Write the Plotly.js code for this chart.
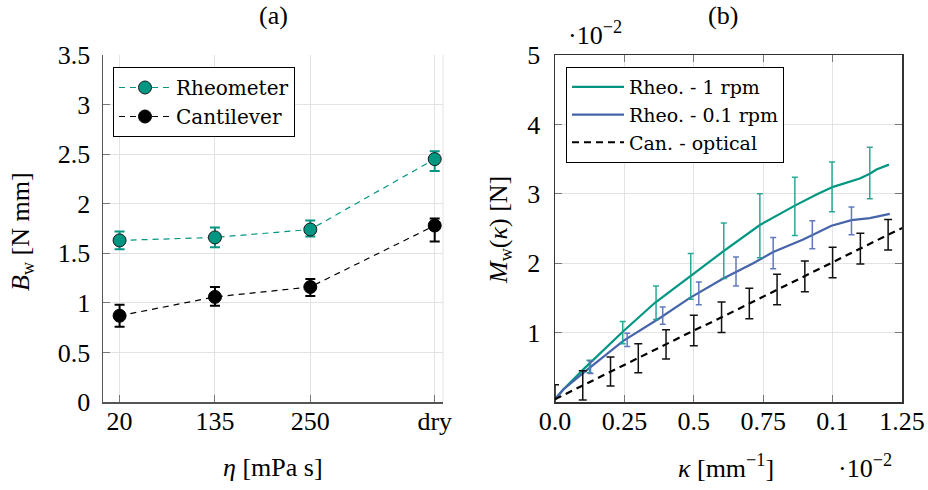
<!DOCTYPE html>
<html>
<head>
<meta charset="utf-8">
<script src="https://cdn.plot.ly/plotly-3.0.1.min.js"></script>
<style>html,body{margin:0;padding:0;background:#fff;}#plot{width:928px;height:490px;}</style>
</head>
<body>
<div id="plot"></div>
<script>
// ---- Panel (a) data ----
const etaPos = [20, 135, 250, 400];
const etaLabels = ['20', '135', '250', 'dry'];
const rheoB = [1.63, 1.66, 1.74, 2.45];
const rheoErrPlus = [0.09, 0.10, 0.09, 0.08];
const rheoErrMinus = [0.09, 0.10, 0.07, 0.12];
const cantB = [0.87, 1.06, 1.16, 1.78];
const cantErrPlus = [0.11, 0.10, 0.08, 0.07];
const cantErrMinus = [0.11, 0.09, 0.09, 0.16];

// ---- Panel (b) data (units of 1e-2) ----
const kappaTicks = [0, 0.25, 0.5, 0.75, 1.0, 1.25];
const kappaTickLabels = ['0.0', '0.25', '0.5', '0.75', '0.1', '1.25'];
const mTicks = [1, 2, 3, 4, 5];

const k1 = [0, 0.03, 0.102, 0.246, 0.36, 0.486, 0.606, 0.738, 0.864, 0.942, 1.002, 1.098, 1.134, 1.158, 1.203];
const m1 = [0.04, 0.18, 0.47, 1.02, 1.43, 1.81, 2.17, 2.55, 2.83, 2.99, 3.10, 3.22, 3.29, 3.35, 3.42];
const k1Err = [0.124, 0.244, 0.364, 0.489, 0.608, 0.738, 0.864, 0.998, 1.134];
const m1ErrCenter = [0.51, 1.00, 1.43, 1.81, 2.18, 2.54, 2.82, 3.10, 3.30];
const m1Err = [0.09, 0.16, 0.24, 0.33, 0.40, 0.46, 0.42, 0.36, 0.37];

const k01 = [0, 0.03, 0.102, 0.246, 0.378, 0.486, 0.606, 0.714, 0.786, 0.894, 0.996, 1.068, 1.134, 1.206];
const m01 = [0.04, 0.18, 0.42, 0.88, 1.21, 1.50, 1.78, 2.00, 2.16, 2.34, 2.54, 2.62, 2.65, 2.71];
const k01Err = [0.128, 0.26, 0.388, 0.518, 0.652, 0.786, 0.927, 1.068];
const m01ErrCenter = [0.50, 0.895, 1.245, 1.565, 1.88, 2.145, 2.41, 2.61];
const m01Err = [0.09, 0.095, 0.125, 0.165, 0.21, 0.225, 0.20, 0.20];

const kCan = [0, 0.1, 0.2, 0.3, 0.4, 0.5, 0.6, 0.7, 0.8, 0.9, 1.0, 1.1, 1.2, 1.3];
const mCan = [0.04, 0.24, 0.44, 0.63, 0.83, 1.03, 1.22, 1.42, 1.62, 1.81, 2.01, 2.21, 2.41, 2.60];
const mCanErr = [0.21, 0.21, 0.21, 0.21, 0.21, 0.22, 0.22, 0.22, 0.22, 0.22, 0.22, 0.22, 0.22, 0.22];

const FONT = 'Liberation Serif';
const LFONT = 'DejaVu Serif';
const TEAL = 'rgb(0,150,130)';
const BLUE = 'rgb(70,100,170)';

const traces = [
  {x: etaPos, y: rheoB, name: 'Rheometer', mode: 'lines+markers', xaxis: 'x', yaxis: 'y', legend: 'legend',
   line: {color: TEAL, width: 1.2, dash: '6px,5px'},
   marker: {size: 13, color: TEAL, line: {color: '#1a1a1a', width: 1}},
   error_y: {type: 'data', symmetric: false, array: rheoErrPlus, arrayminus: rheoErrMinus, color: TEAL, thickness: 2, width: 5}},
  {x: etaPos, y: cantB, name: 'Cantilever', mode: 'lines+markers', xaxis: 'x', yaxis: 'y', legend: 'legend',
   line: {color: '#000', width: 1.2, dash: '6px,5px'},
   marker: {size: 13, color: '#000', line: {color: '#000', width: 1}},
   error_y: {type: 'data', symmetric: false, array: cantErrPlus, arrayminus: cantErrMinus, color: '#000', thickness: 2, width: 5}},

  {x: k1, y: m1, name: 'Rheo. - 1 rpm', mode: 'lines', xaxis: 'x2', yaxis: 'y2', legend: 'legend2',
   line: {color: TEAL, width: 2.2}},
  {x: k01, y: m01, name: 'Rheo. - 0.1 rpm', mode: 'lines', xaxis: 'x2', yaxis: 'y2', legend: 'legend2',
   line: {color: BLUE, width: 2.2}},
  {x: kCan, y: mCan, name: 'Can. - optical', mode: 'lines', xaxis: 'x2', yaxis: 'y2', legend: 'legend2',
   line: {color: '#000', width: 2.2, dash: '7px,5px'}},

  {x: k1Err, y: m1ErrCenter, mode: 'markers', showlegend: false, xaxis: 'x2', yaxis: 'y2',
   marker: {size: 1, color: 'rgba(0,0,0,0)'},
   error_y: {type: 'data', array: m1Err, color: 'rgba(20,160,140,0.9)', thickness: 1.5, width: 3}},
  {x: k01Err, y: m01ErrCenter, mode: 'markers', showlegend: false, xaxis: 'x2', yaxis: 'y2',
   marker: {size: 1, color: 'rgba(0,0,0,0)'},
   error_y: {type: 'data', array: m01Err, color: 'rgba(90,115,185,0.95)', thickness: 1.5, width: 3}},
  {x: kCan, y: mCan, mode: 'markers', showlegend: false, xaxis: 'x2', yaxis: 'y2',
   marker: {size: 1, color: 'rgba(0,0,0,0)'},
   error_y: {type: 'data', array: mCanErr, color: '#111', thickness: 1.5, width: 4}}
];

const tickfont = {family: FONT, size: 26, color: '#000'};
const yDom = [1 - 402/490, 1 - 55/490];

const layout = {
  width: 928, height: 490,
  margin: {l: 0, r: 0, t: 0, b: 0},
  paper_bgcolor: '#fff', plot_bgcolor: '#fff',
  font: {family: FONT, size: 26, color: '#000'},
  xaxis: {domain: [103/928, 443/928], range: [0, 410], tickvals: etaPos, ticktext: etaLabels,
    showgrid: true, gridcolor: '#e3e3e3', gridwidth: 1, zeroline: false,
    showline: true, linecolor: '#555', linewidth: 1.5, ticks: 'inside', ticklen: 7, tickcolor: '#777',
    tickfont: tickfont, ticklabelstandoff: -5, anchor: 'y'},
  yaxis: {domain: yDom, range: [0, 3.5], tickvals: [0, 0.5, 1, 1.5, 2, 2.5, 3, 3.5],
    showgrid: true, gridcolor: '#e3e3e3', gridwidth: 1, zeroline: false,
    showline: true, linecolor: '#555', linewidth: 1.5, ticks: 'inside', ticklen: 7, tickcolor: '#777',
    tickfont: tickfont, ticklabelstandoff: 6, anchor: 'x'},
  xaxis2: {domain: [555/928, 902/928], range: [0, 1.25], tickvals: kappaTicks, ticktext: kappaTickLabels,
    showgrid: true, gridcolor: '#e3e3e3', gridwidth: 1, zeroline: false,
    showline: true, mirror: 'ticks', linecolor: '#333', linewidth: 1.5, ticks: 'inside', ticklen: 7, tickcolor: '#777',
    tickfont: tickfont, ticklabelstandoff: -5, anchor: 'y2'},
  yaxis2: {domain: yDom, range: [0, 5], tickvals: mTicks,
    showgrid: true, gridcolor: '#e3e3e3', gridwidth: 1, zeroline: false,
    showline: true, mirror: 'ticks', linecolor: '#333', linewidth: 1.5, ticks: 'inside', ticklen: 7, tickcolor: '#777',
    tickfont: tickfont, ticklabelstandoff: 8, anchor: 'x2'},
  legend: {x: 113/928, y: 1 - 67/490, xanchor: 'left', yanchor: 'top', bgcolor: '#fff',
    bordercolor: '#000', borderwidth: 1, font: {family: LFONT, size: 20, color: '#000'}, itemwidth: 52},
  legend2: {x: 566/928, y: 1 - 67/490, xanchor: 'left', yanchor: 'top', bgcolor: '#fff',
    bordercolor: '#000', borderwidth: 1, font: {family: LFONT, size: 19, color: '#000'}, itemwidth: 52},
  shapes: [
    {type: 'line', xref: 'x domain', yref: 'y domain', x0: 1, x1: 1, y0: 0, y1: 1, line: {color: '#e3e3e3', width: 1}, layer: 'below'}
  ],
  annotations: [
    {text: '(a)', x: 273/928, y: 1 - 16/490, xref: 'paper', yref: 'paper', showarrow: false, xanchor: 'center', yanchor: 'middle', font: {size: 26}},
    {text: '(b)', x: 723/928, y: 1 - 16/490, xref: 'paper', yref: 'paper', showarrow: false, xanchor: 'center', yanchor: 'middle', font: {size: 26}},
    {text: '·10<sup>−2</sup>', x: 595/928, y: 1 - 34/490, xref: 'paper', yref: 'paper', showarrow: false, xanchor: 'center', yanchor: 'middle', font: {size: 26}},
    {text: '·10<sup>−2</sup>', x: 865/928, y: 1 - 466/490, xref: 'paper', yref: 'paper', showarrow: false, xanchor: 'center', yanchor: 'middle', font: {size: 26}},
    {text: '<i>η</i> [mPa s]', x: 273/928, y: 1 - 467/490, xref: 'paper', yref: 'paper', showarrow: false, xanchor: 'center', yanchor: 'middle', font: {size: 26}},
    {text: '<i>κ</i> [mm<sup>−1</sup>]', x: 726/928, y: 1 - 466/490, xref: 'paper', yref: 'paper', showarrow: false, xanchor: 'center', yanchor: 'middle', font: {size: 26}},
    {text: '<i>B</i><sub>w</sub> [N mm]', x: 22/928, y: 1 - 232/490, xref: 'paper', yref: 'paper', showarrow: false, xanchor: 'center', yanchor: 'middle', textangle: -90, font: {size: 26}},
    {text: '<i>M</i><sub>w</sub>(<i>κ</i>) [N]', x: 500/928, y: 1 - 230/490, xref: 'paper', yref: 'paper', showarrow: false, xanchor: 'center', yanchor: 'middle', textangle: -90, font: {size: 26}}
  ]
};

Plotly.newPlot('plot', traces, layout, {staticPlot: true, displayModeBar: false});
</script>
</body>
</html>
